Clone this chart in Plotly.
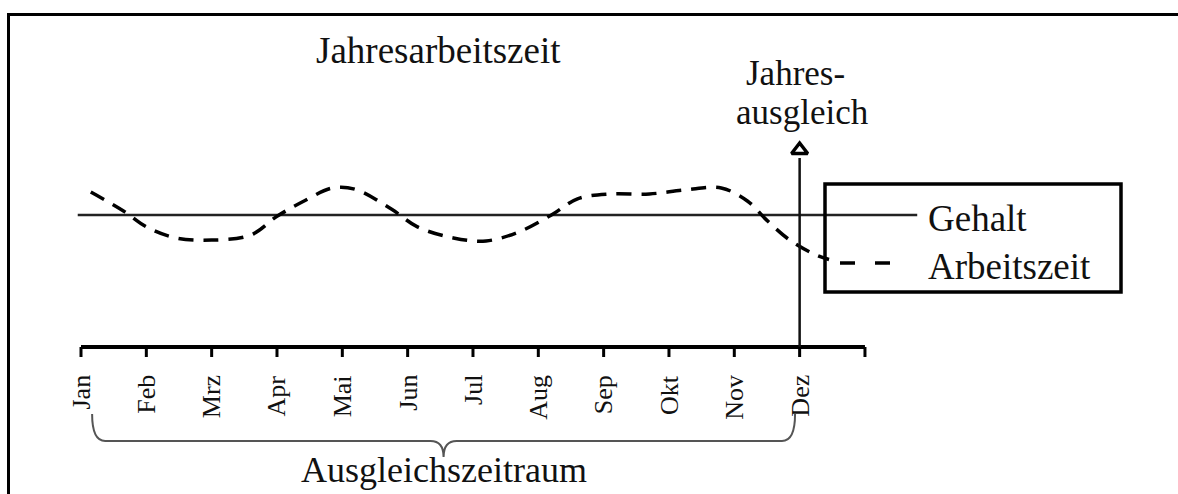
import plotly.graph_objects as go

# ---------------- data ----------------
months = ["Jan", "Feb", "Mrz", "Apr", "Mai", "Jun", "Jul", "Aug", "Sep", "Okt", "Nov", "Dez"]
gehalt_x = [-0.05, 12.8]
gehalt_y = [0.0, 0.0]
arbeit_x = [0.15, 0.65, 1.0, 1.45, 2.0, 2.6, 3.0, 3.4, 3.85, 4.2, 4.75, 5.15, 5.7, 6.2,
            6.7, 7.2, 7.6, 8.1, 8.7, 9.25, 9.8, 10.2, 10.5, 10.85, 11.25, 11.45]
arbeit_y = [0.85, 0.15, -0.44, -0.85, -0.93, -0.74, -0.05, 0.5, 1.0, 0.95, 0.22, -0.44,
            -0.85, -0.96, -0.63, 0.0, 0.6, 0.78, 0.78, 0.93, 1.0, 0.52, -0.2, -0.93,
            -1.48, -1.65]
ausgleich_month = 11  # Dez
title_text = "Jahresarbeitszeit"
arrow_text = ["Jahres-", "ausgleich"]
legend_names = ["Gehalt", "Arbeitszeit"]
brace_text = "Ausgleichszeitraum"

# ---------------- layout geometry (page pixels) ----------------
W, H = 1178, 494
X0_PX, PX_PER_MONTH = 81, 65.33
Y0_PX, PX_PER_UNIT = 215, 27.0


def xd(px):
    return (px - X0_PX) / PX_PER_MONTH


def yd(py):
    return (Y0_PX - py) / PX_PER_UNIT


FONT = "Liberation Serif, Times New Roman, serif"
INK = "#111111"

fig = go.Figure()

# Gehalt line
fig.add_trace(go.Scatter(x=gehalt_x, y=gehalt_y, mode="lines",
                         line=dict(color="#222222", width=2.5), showlegend=False))
# Arbeitszeit dashed curve
fig.add_trace(go.Scatter(x=arbeit_x, y=arbeit_y, mode="lines",
                         line=dict(color="#000000", width=3.5, dash="15px,10px",
                                   shape="spline", smoothing=1.0),
                         showlegend=False))
# legend sample for Arbeitszeit
fig.add_trace(go.Scatter(x=[xd(840), xd(897)], y=[yd(263), yd(263)], mode="lines",
                         line=dict(color="#000000", width=3.5, dash="15px,20px"),
                         showlegend=False))

# x axis line and ticks
axis_y = yd(347)
tick_y = yd(357)
shapes = [dict(type="line", xref="x", yref="y", x0=0, x1=len(months), y0=axis_y, y1=axis_y,
               line=dict(color="#000000", width=4))]
for i in range(len(months) + 1):
    shapes.append(dict(type="line", xref="x", yref="y", x0=i, x1=i, y0=axis_y, y1=tick_y,
                       line=dict(color="#000000", width=3)))

# Jahresausgleich vertical line + arrow head
shapes.append(dict(type="line", xref="x", yref="y", x0=ausgleich_month, x1=ausgleich_month,
                   y0=axis_y, y1=yd(158), line=dict(color="#111111", width=2.5)))
fig.add_trace(go.Scatter(x=[ausgleich_month], y=[yd(150)], mode="markers",
                         marker=dict(symbol="triangle-up-open", size=14, color="#000000",
                                     line=dict(color="#000000", width=3.5)),
                         showlegend=False))

# legend box
shapes.append(dict(type="rect", xref="x", yref="y", x0=xd(825), x1=xd(1121),
                   y0=yd(184), y1=yd(292), line=dict(color="#000000", width=3.5)))

# outer border (right and bottom edges lie outside the picture)
shapes.append(dict(type="rect", xref="x", yref="y", x0=xd(8.5), x1=xd(W + 20),
                   y0=yd(H + 20), y1=yd(14.5), line=dict(color="#000000", width=3)))

# brace under the months
bl, br = 0.17, 10.93
bm = (bl + br) / 2
top, mid, tip = yd(414), yd(441), yd(457)
r = 0.2
path = (f"M {bl},{top} Q {bl},{mid} {bl + r},{mid} L {bm - r},{mid} "
        f"Q {bm},{mid} {bm},{tip} Q {bm},{mid} {bm + r},{mid} "
        f"L {br - r},{mid} Q {br},{mid} {br},{top}")
shapes.append(dict(type="path", xref="x", yref="y", path=path,
                   line=dict(color="#555555", width=2)))

annotations = []
for i, m in enumerate(months):
    annotations.append(dict(x=i, y=yd(373), xref="x", yref="y", text=m, textangle=-90,
                            showarrow=False, xanchor="center", yanchor="top",
                            font=dict(family=FONT, size=26, color=INK)))

annotations.append(dict(x=xd(438), y=yd(50), xref="x", yref="y", text=title_text,
                        showarrow=False, font=dict(family=FONT, size=37, color=INK)))
annotations.append(dict(x=xd(795), y=yd(73), xref="x", yref="y", text=arrow_text[0],
                        showarrow=False, font=dict(family=FONT, size=35, color=INK)))
annotations.append(dict(x=xd(802), y=yd(112), xref="x", yref="y", text=arrow_text[1],
                        showarrow=False, font=dict(family=FONT, size=35, color=INK)))
annotations.append(dict(x=xd(926), y=yd(218), xref="x", yref="y", text=legend_names[0],
                        showarrow=False, xanchor="left",
                        font=dict(family=FONT, size=37, color=INK)))
annotations.append(dict(x=xd(926), y=yd(266), xref="x", yref="y", text=legend_names[1],
                        showarrow=False, xanchor="left",
                        font=dict(family=FONT, size=37, color=INK)))
annotations.append(dict(x=bm, y=yd(470), xref="x", yref="y", text=brace_text,
                        showarrow=False, font=dict(family=FONT, size=36, color=INK)))

fig.update_layout(
    width=W, height=H,
    margin=dict(l=0, r=0, t=0, b=0),
    paper_bgcolor="white", plot_bgcolor="white",
    xaxis=dict(range=[xd(0), xd(W)], visible=False, fixedrange=True),
    yaxis=dict(range=[yd(H), yd(0)], visible=False, fixedrange=True),
    shapes=shapes, annotations=annotations, showlegend=False,
)

fig.write_html(
    "out.html",
    config={"displayModeBar": False, "staticPlot": True},
    post_script="document.body.style.margin='0';"
                "document.documentElement.style.overflow='hidden';",
)
